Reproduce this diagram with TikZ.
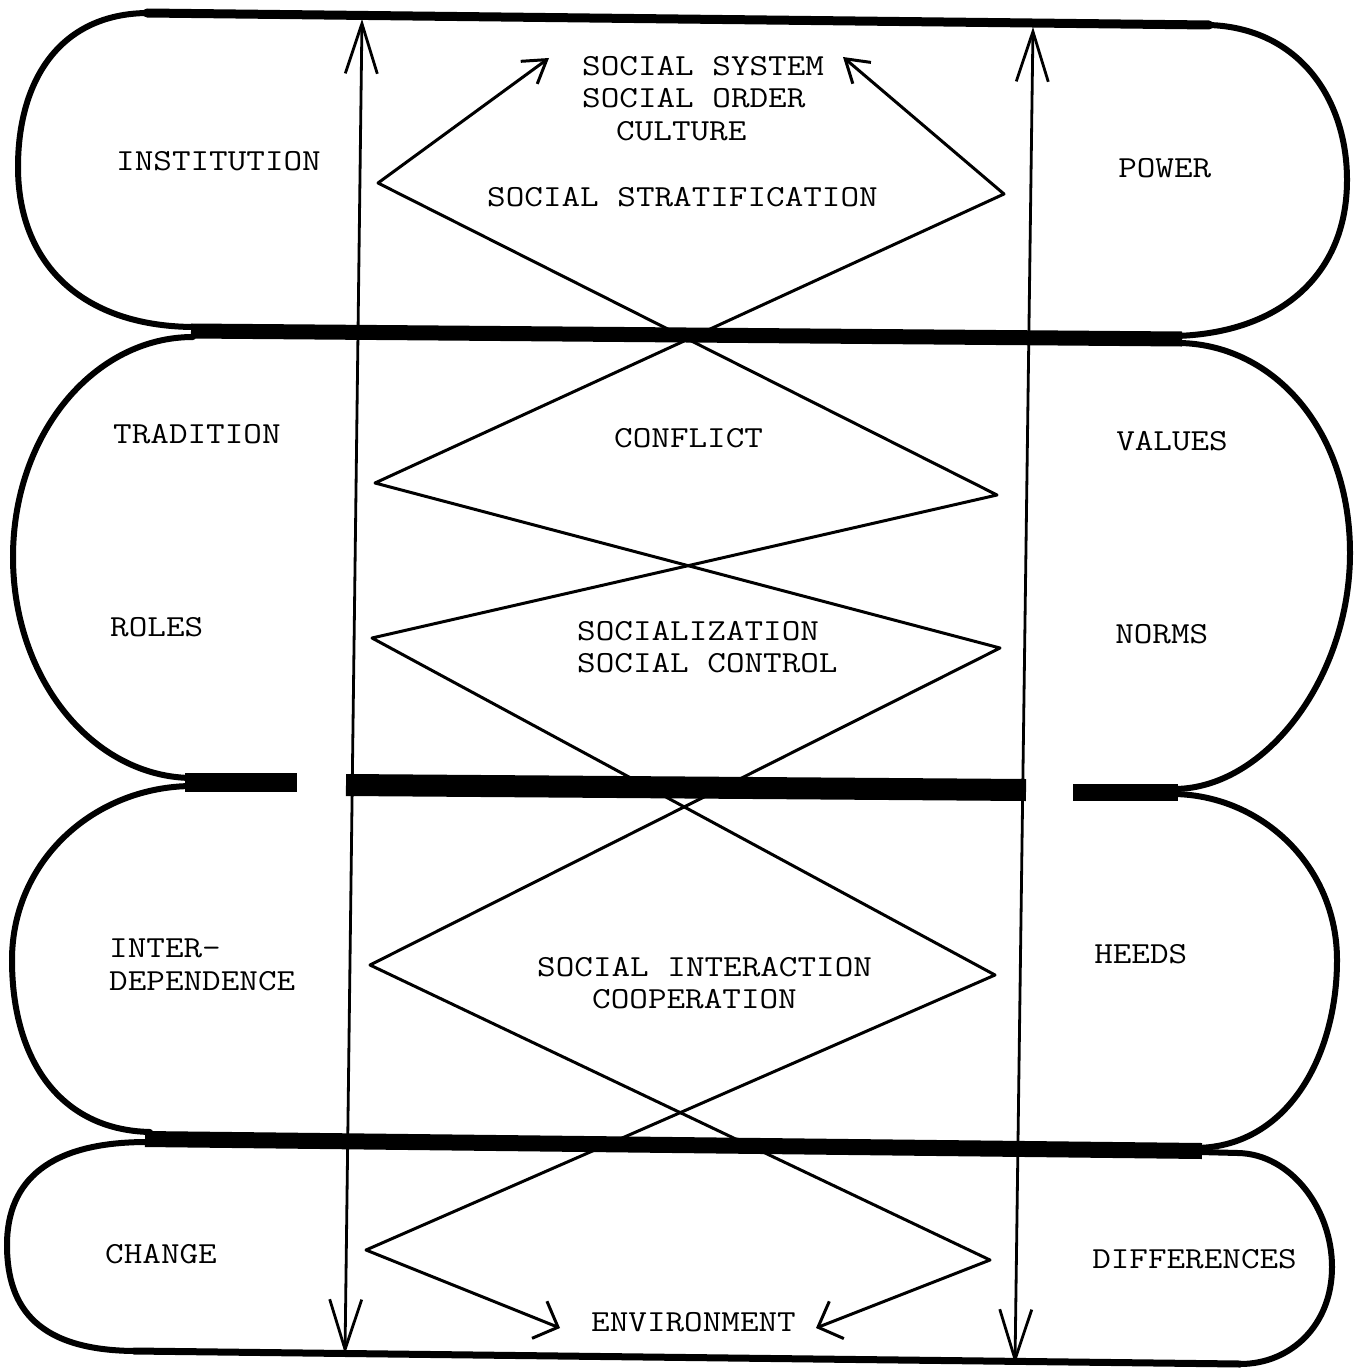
\documentclass[tikz,border=0pt]{standalone}
\usetikzlibrary{arrows.meta}
\begin{document}
\begin{tikzpicture}[x=1pt,y=-1pt,
  lbl/.style={anchor=base west, inner sep=0pt, xscale=1.18, font=\fontsize{30.6}{32}\selectfont\ttfamily},
  rim/.style={line width=6pt, line cap=round},
  bar/.style={line width=#1, line cap=butt},
  zz/.style={line width=3pt, line join=round},
  vert/.style={line width=2.8pt},
  vh/.tip={Straight Barb[length=50pt,width=32pt]},
  th/.tip={Straight Barb[length=22pt,width=28pt]},
  bh/.tip={Straight Barb[length=20pt,width=40pt]},
]
\useasboundingbox (0,0) rectangle (1360,1370);

% ---- band outlines ----
% band 1
\draw[line width=9pt, line cap=round] (147,13) -- (1209,25);
\draw[rim] (147,13) .. controls (60,14) and (18,80) .. (18,167) .. controls (18,262) and (80,326) .. (193,327);
\draw[rim] (1209,25) .. controls (1300,28) and (1347,100) .. (1347,180) .. controls (1347,275) and (1280,333) .. (1176,336);
\draw[bar=15pt] (191,331) -- (1182,339);
% band 2
\draw[rim] (193,337) .. controls (94,337) and (13,434) .. (13,557) .. controls (13,680) and (94,778) .. (193,778);
\draw[rim] (1180,343) .. controls (1274,345) and (1350,430) .. (1350,553) .. controls (1350,676) and (1267,788) .. (1175,789);
\draw[bar=19pt] (185,782) -- (297,782);
\draw[bar=22pt] (346,785) -- (1026,790);
\draw[bar=17pt] (1073,792) -- (1178,792);
% band 3
\draw[rim] (193,786) .. controls (95,786) and (12,860) .. (12,960) .. controls (12,1060) and (60,1130) .. (150,1132);
\draw[rim] (1175,794) .. controls (1263,796) and (1337,867) .. (1337,960) .. controls (1337,1053) and (1290,1146) .. (1197,1148);
\draw[bar=16pt] (145,1139) -- (1202,1151);
% band 4
\draw[rim] (147,1142) .. controls (50,1142) and (7,1180) .. (7,1245) .. controls (7,1310) and (40,1350) .. (134,1351);
\draw[line width=7pt, line cap=round] (134,1351) -- (1240,1364);
\draw[rim] (1200,1152) -- (1238,1153) .. controls (1291,1154) and (1332,1209) .. (1332,1267) .. controls (1332,1325) and (1291,1364) .. (1240,1364);

% ---- vertical arrows ----
\coordinate (LT) at (362,19);
\coordinate (LB) at (345,1354);
\coordinate (RT) at (1033,27);
\coordinate (RB) at (1015,1364);
\draw[vert, {vh}-{vh}] (LT) -- (LB);
\draw[vert, {vh}-{vh}] (RT) -- (RB);

% ---- zigzag A ----
\coordinate (A0) at (549,58);
\coordinate (A1) at (378,183);
\coordinate (A2) at (997,495);
\coordinate (A3) at (372,638);
\coordinate (A4) at (995,975);
\coordinate (A5) at (366,1250);
\coordinate (A6) at (560,1328);
\draw[zz, {th}-{bh}] (A0) -- (A1) -- (A2) -- (A3) -- (A4) -- (A5) -- (A6);
% ---- zigzag B ----
\coordinate (B0) at (843,57);
\coordinate (B1) at (1004,194);
\coordinate (B2) at (375,483);
\coordinate (B3) at (1000,648);
\coordinate (B4) at (370,965);
\coordinate (B5) at (990,1260);
\coordinate (B6) at (816,1328);
\draw[zz, {th}-{bh}] (B0) -- (B1) -- (B2) -- (B3) -- (B4) -- (B5) -- (B6);

% ---- labels ----
\node[lbl] (inst) at (116,170) {INSTITUTION};
\node[lbl] (sys) at (582,76) {SOCIAL SYSTEM};
\node[lbl] (ord) at (582,108) {SOCIAL ORDER};
\node[lbl] (cul) at (616,141) {CULTURE};
\node[lbl] (strat) at (487,206) {SOCIAL STRATIFICATION};
\node[lbl] (pow) at (1118,177) {POWER};
\node[lbl] (trad) at (113,443) {TRADITION};
\node[lbl] (conf) at (614,447) {CONFLICT};
\node[lbl] (val) at (1116,450) {VALUES};
\node[lbl] (rol) at (110,636) {ROLES};
\node[lbl] (soc) at (577,640) {SOCIALIZATION};
\node[lbl] (ctl) at (577,672) {SOCIAL CONTROL};
\node[lbl] (nor) at (1115,643) {NORMS};
\node[lbl] (int) at (109,957) {INTER-};
\node[lbl] (dep) at (109,990) {DEPENDENCE};
\node[lbl] (sint) at (537,976) {SOCIAL INTERACTION};
\node[lbl] (coop) at (592,1008) {COOPERATION};
\node[lbl] (hee) at (1094,963) {HEEDS};
\node[lbl] (chg) at (105,1263) {CHANGE};
\node[lbl] (env) at (591,1331) {ENVIRONMENT};
\node[lbl] (dif) at (1092,1268) {DIFFERENCES};
\end{tikzpicture}
\end{document}
